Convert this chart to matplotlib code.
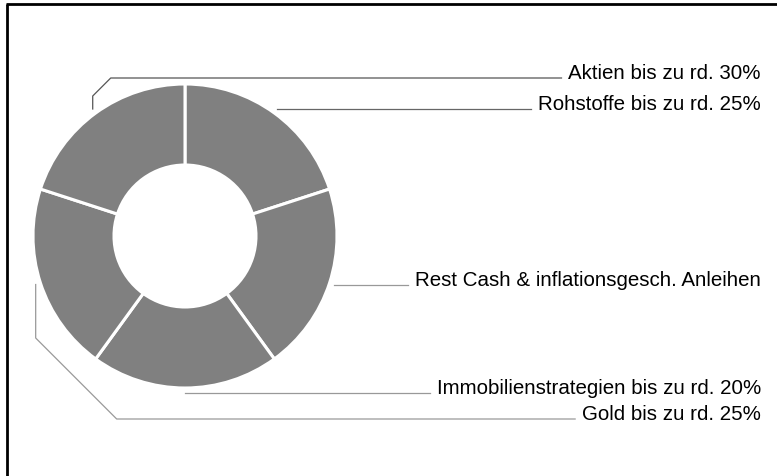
import numpy as np
import matplotlib
matplotlib.use("Agg")
import matplotlib.pyplot as plt

# ---- data ----
labels = ["Rohstoffe bis zu rd. 25%",
          "Rest Cash & inflationsgesch. Anleihen",
          "Immobilienstrategien bis zu rd. 20%",
          "Gold bis zu rd. 25%",
          "Aktien bis zu rd. 30%"]
values = [1, 1, 1, 1, 1]          # slices drawn as equal shares
line_colors = ["#666666", "#999999", "#999999", "#999999", "#555555"]

W, H = 777, 477
fig = plt.figure(figsize=(W / 100, H / 100), dpi=100)
ax = fig.add_axes([0, 0, 1, 1])
ax.set_xlim(0, W)
ax.set_ylim(0, H)
ax.set_aspect("equal")
ax.axis("off")

cx, cy = 185, H - 237
R, width = 152, 81
wedges, _ = ax.pie(values, center=(cx, cy), radius=R, startangle=90,
                   counterclock=False, colors=["#808080"] * len(values),
                   wedgeprops=dict(width=width, edgecolor="white", linewidth=2.2))
ax.set_xlim(0, W)
ax.set_ylim(0, H)

# frame: left and top borders
ax.plot([7, 7], [0, H - 4.5], color="black", lw=2.0, solid_capstyle="butt")
ax.plot([6, W], [H - 4.5, H - 4.5], color="black", lw=2.0, solid_capstyle="butt")

fs = 14.8
text_right = 761
renderer = fig.canvas.get_renderer()
for w, lab, lc in zip(wedges, labels, line_colors):
    mid = np.deg2rad((w.theta1 + w.theta2) / 2)
    sx = cx + (R + 5) * np.cos(mid)
    sy = cy + (R + 5) * np.sin(mid)
    pts = [(sx, sy)]
    if lab.startswith("Aktien"):
        ly = H - 79
        pts += [(sx, H - 97), (sx + 18, ly)]
    elif lab.startswith("Gold"):
        ly = H - 420
        pts += [(sx, H - 339), (sx + 81, ly)]
    else:
        ly = sy
    t = ax.text(text_right, ly, lab, ha="right", va="baseline", fontsize=fs,
                family="Liberation Sans", color="black")
    bb = t.get_window_extent(renderer=renderer)
    x_end = bb.x0 - 7
    pts.append((x_end, ly))
    xs, ys = zip(*pts)
    ax.plot(xs, ys, color=lc, lw=0.9)

fig.savefig("out.png", dpi=100, facecolor="white")
